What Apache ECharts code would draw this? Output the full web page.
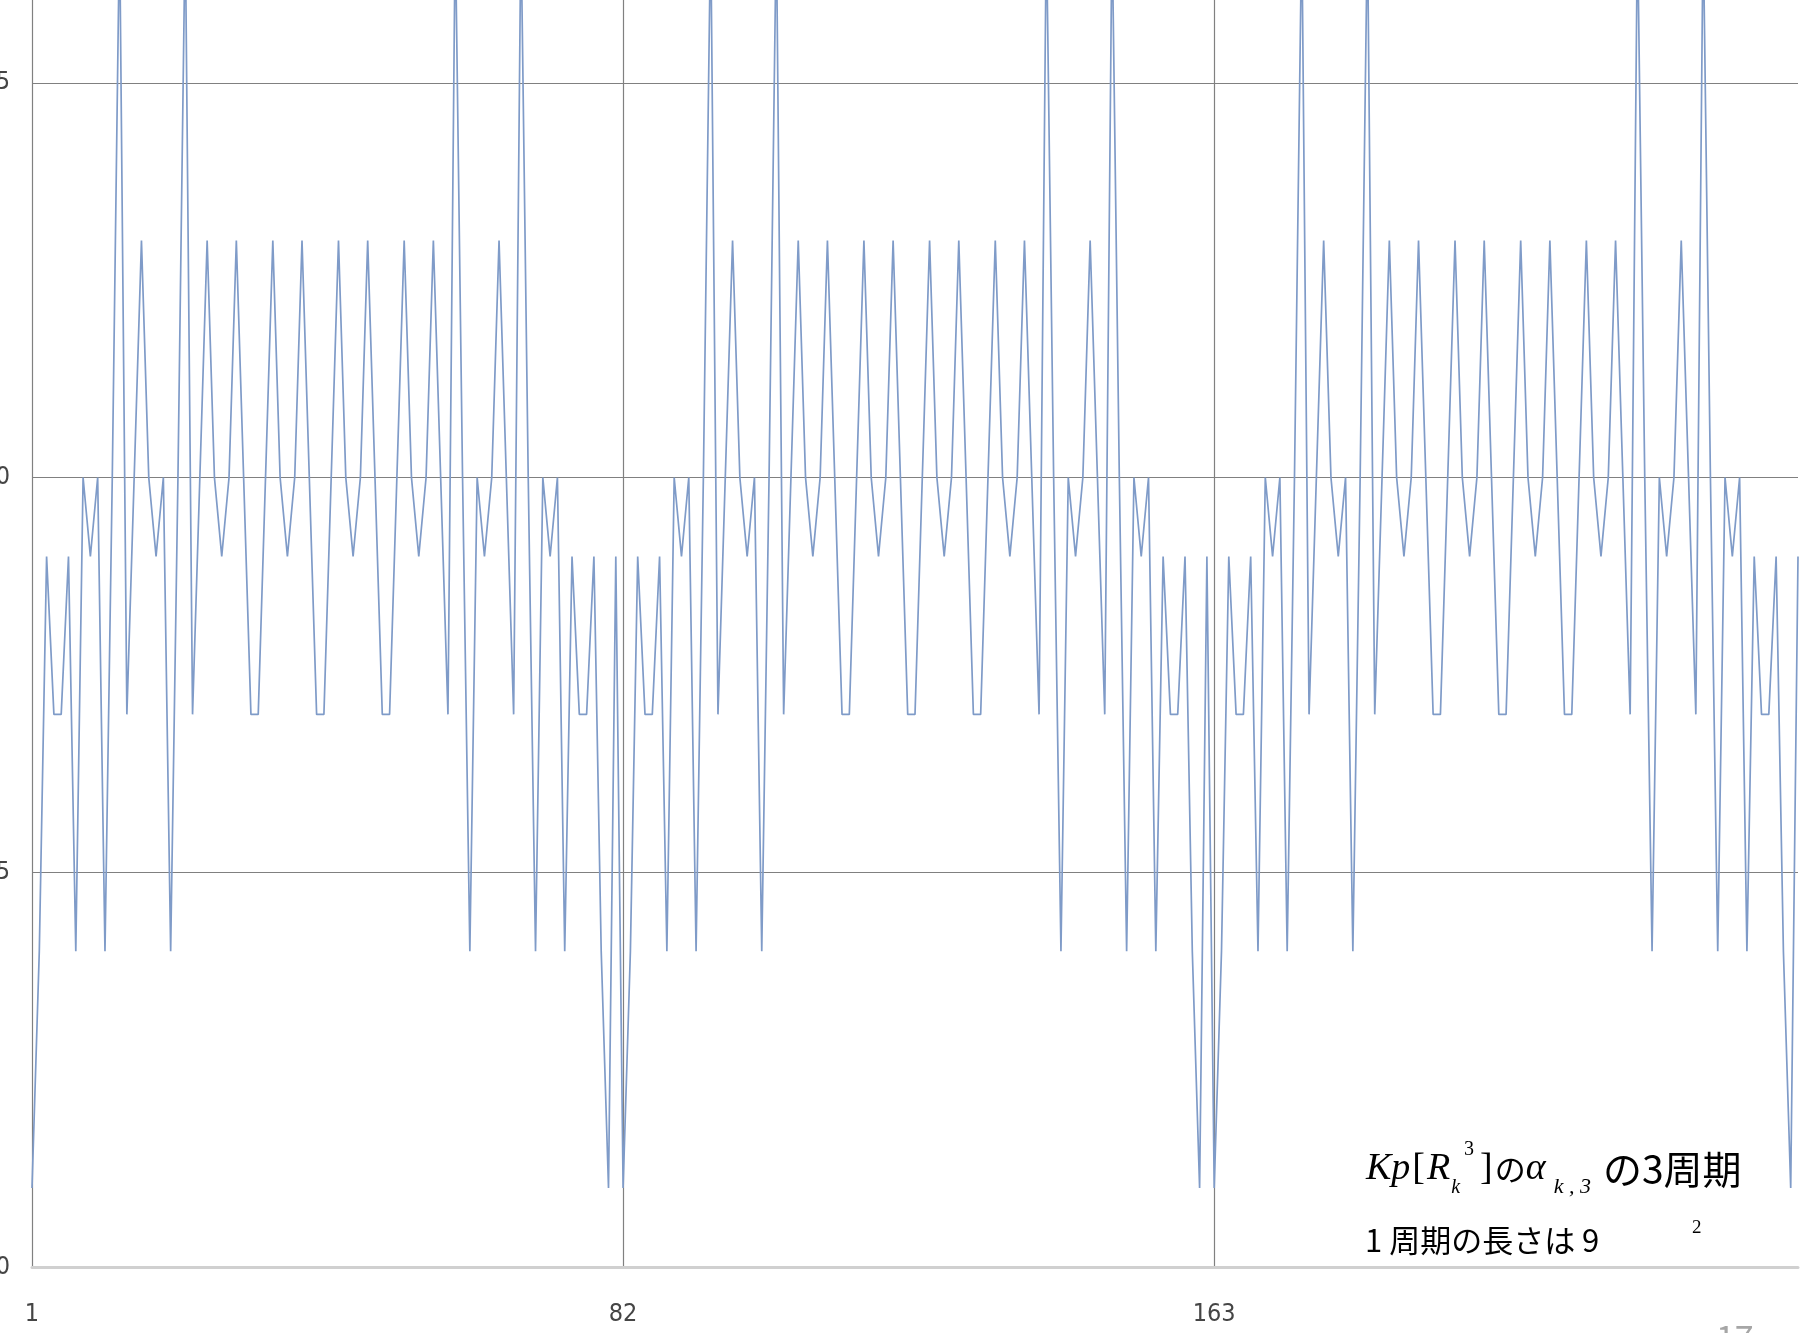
<!DOCTYPE html>
<html>
<head>
<meta charset="utf-8">
<script src="https://cdn.jsdelivr.net/npm/echarts@6/dist/echarts.min.js"></script>
<style>
  html, body { margin: 0; padding: 0; background: #ffffff; }
  #chart { width: 1807px; height: 1333px; }
</style>
</head>
<body>
<div id="chart"></div>
<script>
// α(k,3) values, one array per period (81 = 9^2 points each)
const period1 = [
  1, 4, 9, 7, 7, 9, 4, 10, 9, 10,
  4, 10, 17, 7, 10, 13, 10, 9, 10, 4,
  10, 17, 7, 10, 13, 10, 9, 10, 13, 10,
  7, 7, 10, 13, 10, 9, 10, 13, 10, 7,
  7, 10, 13, 10, 9, 10, 13, 10, 7, 7,
  10, 13, 10, 9, 10, 13, 10, 7, 17, 10,
  4, 10, 9, 10, 13, 10, 7, 17, 10, 4,
  10, 9, 10, 4, 9, 7, 7, 9, 4, 1,
  9
];
const period2 = [
  1, 4, 9, 7, 7, 9, 4, 10, 9, 10,
  4, 10, 17, 7, 10, 13, 10, 9, 10, 4,
  10, 17, 7, 10, 13, 10, 9, 10, 13, 10,
  7, 7, 10, 13, 10, 9, 10, 13, 10, 7,
  7, 10, 13, 10, 9, 10, 13, 10, 7, 7,
  10, 13, 10, 9, 10, 13, 10, 7, 17, 10,
  4, 10, 9, 10, 13, 10, 7, 17, 10, 4,
  10, 9, 10, 4, 9, 7, 7, 9, 4, 1,
  9
];
const period3 = [
  1, 4, 9, 7, 7, 9, 4, 10, 9, 10,
  4, 10, 17, 7, 10, 13, 10, 9, 10, 4,
  10, 17, 7, 10, 13, 10, 9, 10, 13, 10,
  7, 7, 10, 13, 10, 9, 10, 13, 10, 7,
  7, 10, 13, 10, 9, 10, 13, 10, 7, 7,
  10, 13, 10, 9, 10, 13, 10, 7, 17, 10,
  4, 10, 9, 10, 13, 10, 7, 17, 10, 4,
  10, 9, 10, 4, 9, 7, 7, 9, 4, 1,
  9
];

const periodLength = 81;
const values = period1.concat(period2, period3);
// k = 1, 2, ..., 243
const categories = values.map((_, i) => String(i + 1));

const yMin = 0;
const yMax = 20;
const yStep = 5;

const chart = echarts.init(document.getElementById('chart'), null, { renderer: 'canvas' });

const axisFont = '"Liberation Sans Narrow", "DejaVu Sans Condensed", "Liberation Sans", sans-serif';
const serif = '"Liberation Serif", "DejaVu Serif", serif';
const cjk = '"Noto Sans CJK JP", "Noto Sans", sans-serif';

chart.setOption({
  backgroundColor: '#ffffff',
  animation: false,
  grid: {
    left: 32, right: 9, top: -312, bottom: 66,
    outerBoundsMode: 'none',
    containLabel: false
  },
  xAxis: {
    type: 'category',
    data: categories,
    boundaryGap: false,
    axisLine: { show: true, lineStyle: { color: '#d0d0d0', width: 3 } },
    axisTick: { show: false },
    axisLabel: {
      interval: (index) => index % periodLength === 0,
      margin: 35,
      color: '#454545',
      fontFamily: axisFont,
      fontSize: 25
    },
    splitLine: {
      show: true,
      interval: (index) => index % periodLength === 0,
      lineStyle: { color: '#808080', width: 1.2 }
    }
  },
  yAxis: {
    type: 'value',
    min: yMin,
    max: yMax,
    interval: yStep,
    axisLine: { show: false },
    axisTick: { show: false },
    axisLabel: {
      margin: 22,
      color: '#454545',
      fontFamily: axisFont,
      fontSize: 25
    },
    splitLine: { show: true, lineStyle: { color: '#808080', width: 1.2 } }
  },
  series: [{
    type: 'line',
    data: values,
    showSymbol: false,
    symbol: 'none',
    clip: false,
    lineStyle: { color: '#7f9bc8', width: 1.7 },
    z: 3
  }],
  graphic: [
    {
      type: 'text',
      left: 1366,
      top: 1140,
      z: 10,
      style: {
        text: '{it|Kp}{br|[}{it|R}{sub|k}{sup|3}{br|]}{cj|の}{it|α}{sub2|k , 3}{cj2|の3周期}',
        fill: '#000000',
        rich: {
          it: { fontFamily: serif, fontStyle: 'italic', fontSize: 38, lineHeight: 58, verticalAlign: 'middle', fill: '#000' },
          br: { fontFamily: serif, fontSize: 38, lineHeight: 58, verticalAlign: 'middle', fill: '#000', padding: [0, 2, 0, 2] },
          sub: { fontFamily: serif, fontStyle: 'italic', fontSize: 20, lineHeight: 30, verticalAlign: 'bottom', fill: '#000', padding: [0, 2, 0, 1] },
          sub2: { fontFamily: serif, fontStyle: 'italic', fontSize: 22, lineHeight: 28, verticalAlign: 'bottom', fill: '#000', padding: [0, 12, 0, 8] },
          sup: { fontFamily: serif, fontSize: 20, lineHeight: 22, verticalAlign: 'top', fill: '#000', padding: [0, 4, 0, 2] },
          cj: { fontFamily: cjk, fontSize: 31, lineHeight: 58, verticalAlign: 'middle', fill: '#000' },
          cj2: { fontFamily: cjk, fontSize: 39, lineHeight: 58, verticalAlign: 'middle', fill: '#000' }
        }
      }
    },
    {
      type: 'text',
      left: 1365,
      top: 1225,
      z: 10,
      style: {
        text: '1 周期の長さは 9',
        fill: '#000000',
        font: '31px ' + cjk
      }
    },
    {
      type: 'text',
      left: 1692,
      top: 1219,
      z: 10,
      style: {
        text: '2',
        fill: '#000000',
        font: '19px ' + serif
      }
    },
    {
      type: 'text',
      left: 1716,
      top: 1320,
      z: 10,
      style: {
        text: '17',
        fill: '#a6a6a6',
        font: '34px ' + cjk
      }
    }
  ]
});
</script>
</body>
</html>
